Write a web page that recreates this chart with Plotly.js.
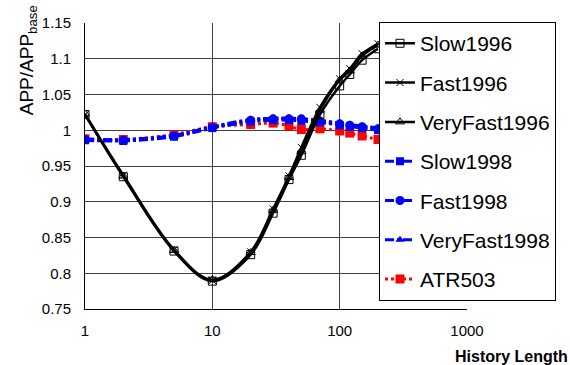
<!DOCTYPE html>
<html>
<head>
<meta charset="utf-8">
<script src="https://cdn.plot.ly/plotly-3.0.1.min.js"></script>
<style>html,body{margin:0;padding:0;background:#fff}#chart{width:570px;height:365px}</style>
</head>
<body>
<div id="chart"></div>
<script>
const historyLength = [1, 2, 5, 10, 20, 30, 40, 50, 70, 100, 120, 150, 200];
const slow1996     = [1.022, 0.935, 0.831, 0.789, 0.826, 0.884, 0.931, 0.965, 1.022, 1.062, 1.078, 1.098, 1.114];
const fast1996     = [1.022, 0.937, 0.833, 0.790, 0.830, 0.890, 0.936, 0.976, 1.032, 1.072, 1.086, 1.107, 1.121];
const veryFast1996 = [1.023, 0.936, 0.832, 0.791, 0.829, 0.888, 0.934, 0.970, 1.028, 1.070, 1.083, 1.104, 1.119];
const slow1998     = [0.986, 0.985, 0.991, 1.003, 1.012, 1.014, 1.014, 1.013, 1.011, 1.007, 1.005, 1.003, 1.000];
const fast1998     = [0.987, 0.986, 0.992, 1.004, 1.014, 1.016, 1.016, 1.016, 1.013, 1.009, 1.007, 1.005, 1.002];
const veryFast1998 = [0.988, 0.987, 0.993, 1.005, 1.015, 1.017, 1.017, 1.016, 1.014, 1.010, 1.008, 1.006, 1.003];
const atr503       = [0.988, 0.987, 0.994, 1.005, 1.008, 1.010, 1.006, 1.001, 1.002, 0.999, 0.996, 0.992, 0.987];
const xTickVals = [1, 10, 100, 1000];
const xTickText = ['1', '10', '100', '1000'];
const yTickVals = [0.75, 0.8, 0.85, 0.9, 0.95, 1, 1.05, 1.1, 1.15];
const yTickText = ['0.75', '0.8', '0.85', '0.9', '0.95', '1', '1.05', '1.1', '1.15'];

function tr(name, y, rank, line, marker) {
  return {x: historyLength, y: y, name: name, legendgroup: name, legendrank: rank,
    type: 'scatter', mode: 'lines+markers', line: line, marker: marker, cliponaxis: true};
}
const blueLine = {color: '#0000ff', width: 3, dash: 'dashdot', shape: 'spline'};
const blackLine = {color: '#000000', width: 2.5, shape: 'spline'};
const data = [
  tr('ATR503', atr503, 7, {color: '#ff0000', width: 3, dash: '3px,3px', shape: 'spline'}, {symbol: 'square', size: 9, color: '#ff0000'}),
  tr('Slow1998', slow1998, 4, blueLine, {symbol: 'square', size: 8, color: '#0000ff'}),
  tr('VeryFast1998', veryFast1998, 6, blueLine, {symbol: 'triangle-up', size: 8, color: '#0000ff'}),
  tr('Fast1998', fast1998, 5, blueLine, {symbol: 'circle', size: 9, color: '#0000ff'}),
  tr('Slow1996', slow1996, 1, blackLine, {symbol: 'square-open', size: 8, color: '#000000', line: {width: 1}}),
  tr('Fast1996', fast1996, 2, blackLine, {symbol: 'x-thin-open', size: 7, color: '#000000', line: {width: 1, color: '#000000'}}),
  tr('VeryFast1996', veryFast1996, 3, blackLine, {symbol: 'triangle-up-open', size: 8, color: '#000000', line: {width: 1}})
];
const layout = {
  width: 570, height: 365,
  margin: {l: 85, r: 103, t: 23, b: 56},
  paper_bgcolor: '#ffffff', plot_bgcolor: '#ffffff',
  font: {family: 'Liberation Sans, Arial, sans-serif', color: '#000000', size: 15},
  showlegend: true,
  xaxis: {type: 'log', range: [0, 3], tickvals: xTickVals, ticktext: xTickText,
    showgrid: true, gridcolor: '#404040', gridwidth: 1, zeroline: false,
    showline: true, linecolor: '#000000', linewidth: 1, mirror: false,
    ticks: '', ticklabelstandoff: 8, tickfont: {size: 15}},
  yaxis: {range: [0.75, 1.15], tickvals: yTickVals, ticktext: yTickText,
    showgrid: true, gridcolor: '#404040', gridwidth: 1, zeroline: false,
    showline: true, linecolor: '#000000', linewidth: 1,
    ticks: '', ticklabelstandoff: 10, tickfont: {size: 15}},
  legend: {x: 0.7696, y: 1.003, xanchor: 'left', yanchor: 'top', maxheight: 2000,
    bgcolor: '#ffffff', bordercolor: '#000000', borderwidth: 1,
    font: {size: 21}, traceorder: 'grouped', tracegroupgap: 9, itemwidth: 30},
  annotations: [
    {text: 'APP/APP<sub>base</sub>', xref: 'paper', yref: 'paper', x: -0.149, y: 0.87,
     xanchor: 'center', yanchor: 'middle', textangle: -90, showarrow: false, font: {size: 19}},
    {text: '<b>History Length</b>', xref: 'paper', yref: 'paper', x: 0.963, y: -0.128,
     xanchor: 'left', yanchor: 'top', showarrow: false, font: {size: 16}}
  ]
};
Plotly.newPlot('chart', data, layout, {displayModeBar: false, staticPlot: true});
</script>
</body>
</html>
